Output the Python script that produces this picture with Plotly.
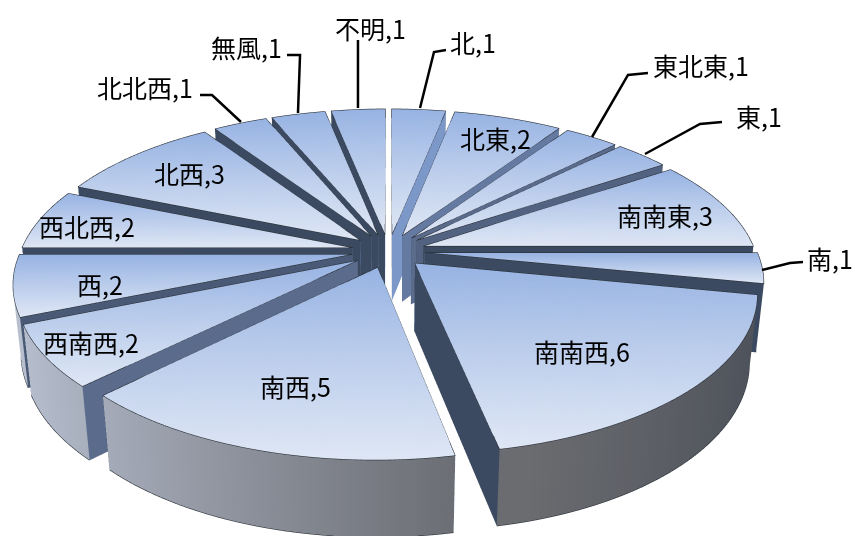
import numpy as np
import plotly.graph_objects as go

categories = ["北","北東","東北東","東","南南東","南","南南西","南西","西南西","西","西北西","北西","北北西","無風","不明"]
values = [1,2,1,1,3,1,6,5,2,2,2,3,1,1,1]

label_xy = [(473,42),(495,138),(701,65),(759,116),(665,215),(830,258),(582,351),(295,386),(91,342),(100,284),(87,226),(189,173),(145,87),(246,47),(370,28)]
leaders = [[(446,50),(434,52),(420,108)],None,[(648,73),(628,75),(592,137)],[(722,122),(700,124),(645,154)],None,[(803,262),(790,263),(762,270)],None,None,None,None,None,None,[(200,95),(212,95),(241,122)],[(287,55),(300,55),(298,113)],[(358,40),(358,108)]]

W, HT = 857, 536
TOP0, TOP1 = np.array([0x97,0xb3,0xe3]), np.array([0xdf,0xe7,0xf5])
PULL, H, R = 0.11, 0.232, 1.0
LIGHT, MID, DARK = np.array([0x7d,0x9a,0xcb]), np.array([0x5a,0x6b,0x8c]), np.array([0x3b,0x4a,0x60])
# pinhole view of the pie: elevation, distance, focal scale, centre of the top plane (pixels)
ELEV, DIST, SCALE, CX, CY = np.radians(27.4), 5.1, 332, 388.5, 251

def project(x, y, z):
    yc = y*np.sin(ELEV) + z*np.cos(ELEV)
    zc = DIST + y*np.cos(ELEV) - z*np.sin(ELEV)
    f = SCALE*DIST/zc
    return CX + x*f, HT - (CY - yc*f), (DIST - zc)/2

def hexc(c):
    return "rgb(%d,%d,%d)" % tuple(np.clip(c, 0, 255).astype(int))

def add_mesh(fig, px, py, pz, colors):
    sx, sy, sz = project(px, py, pz)
    n, m = px.shape
    idx = np.arange(n*m).reshape(n, m)
    a = idx[:-1,:-1].ravel(); b = idx[1:,:-1].ravel(); c = idx[1:,1:].ravel(); d = idx[:-1,1:].ravel()
    fig.add_trace(go.Mesh3d(x=sx.ravel(), y=sy.ravel(), z=sz.ravel(),
        i=np.r_[a,a], j=np.r_[b,c], k=np.r_[c,d],
        vertexcolor=[hexc(v) for v in colors.reshape(-1,3)],
        lighting=dict(ambient=1, diffuse=0, specular=0, fresnel=0, roughness=1),
        flatshading=True, hoverinfo="skip", showscale=False))

def add_edge(fig, xs, ys, zs):
    sx, sy, sz = project(np.asarray(xs), np.asarray(ys), np.asarray(zs))
    fig.add_trace(go.Scatter3d(x=sx, y=sy, z=sz+0.005, mode="lines", line=dict(color="#2a3038", width=1.2), hoverinfo="skip"))

def cut_color(n):
    return np.array([np.interp(n, [100,135,180], [LIGHT[i], MID[i], DARK[i]]) for i in range(3)])

def wall_color(x):
    return np.stack([np.interp(x, [-1.05,0.2,0.35,1.1], [c0,c1,c2,c3]) for c0,c1,c2,c3 in
                     zip((0xb8,0xc0,0xd0),(0x6a,0x6c,0x72),(0x6a,0x6c,0x70),(0x4c,0x50,0x59))], axis=-1)

fig = go.Figure()
total = sum(values)
start = 0.0
for v in values:
    s0 = start; s1 = start + v/total*360
    start = s1
    a0, a1 = np.radians(s0), np.radians(s1)
    mid = (a0+a1)/2
    ox, oy = PULL*np.sin(mid), PULL*np.cos(mid)
    th = np.linspace(a0, a1, max(6, v*8))
    rr = np.linspace(0, R, 12)
    T, RR = np.meshgrid(th, rr, indexing="ij")
    X = ox + RR*np.sin(T); Y = oy + RR*np.cos(T)
    t = (Y.max()-Y)/(Y.max()-Y.min())
    cols = TOP0[None,None,:]*(1-t[...,None]) + TOP1[None,None,:]*t[...,None]
    for ang, n in ((a0, (s0-90) % 360), (a1, (s1+90) % 360)):
        RG, ZG = np.meshgrid(np.array([0, R]), np.array([-H, 0]), indexing="ij")
        XX = ox + RG*np.sin(ang); YY = oy + RG*np.cos(ang)
        add_mesh(fig, XX, YY, ZG, np.tile(cut_color(n), (2,2,1)).astype(float))
    TW, ZW = np.meshgrid(th, np.array([-H, 0]), indexing="ij")
    XW = ox + R*np.sin(TW); YW = oy + R*np.cos(TW)
    add_mesh(fig, XW, YW, ZW, wall_color(XW))
    add_mesh(fig, X, Y, np.zeros_like(X), cols)
    ex = np.r_[ox, ox+R*np.sin(th), ox]; ey = np.r_[oy, oy+R*np.cos(th), oy]
    add_edge(fig, ex, ey, np.zeros_like(ex))
    add_edge(fig, ox+R*np.sin(th), oy+R*np.cos(th), np.full_like(th, -H))

fig.update_layout(
    width=W, height=HT, margin=dict(l=0,r=0,t=0,b=0), paper_bgcolor="white", showlegend=False,
    scene=dict(domain=dict(x=[0,1],y=[0,1]),
               xaxis=dict(visible=False, range=[0,W], autorange=False),
               yaxis=dict(visible=False, range=[0,HT], autorange=False),
               zaxis=dict(visible=False, range=[-1,1], autorange=False),
               aspectmode="manual", aspectratio=dict(x=2*W/HT,y=2,z=1),
               camera=dict(eye=dict(x=0,y=0,z=3), center=dict(x=0,y=0,z=0), up=dict(x=0,y=1,z=0),
                           projection=dict(type="orthographic"))),
)
for cat, val, (lx,ly), ld in zip(categories, values, label_xy, leaders):
    fig.add_annotation(x=lx/W, y=1-ly/HT, xref="paper", yref="paper", xanchor="center", yanchor="middle",
                       text=f"{cat},{val}", showarrow=False,
                       font=dict(family="Noto Sans CJK JP", size=25, color="black"))
    if ld:
        path = "M " + " L ".join(f"{x/W:.4f},{1-y/HT:.4f}" for x,y in ld)
        fig.add_shape(type="path", path=path, xref="paper", yref="paper", line=dict(color="black", width=2.5))
fig.write_html("out.html", post_script="document.body.style.margin='0';", config={"displayModeBar":False})
